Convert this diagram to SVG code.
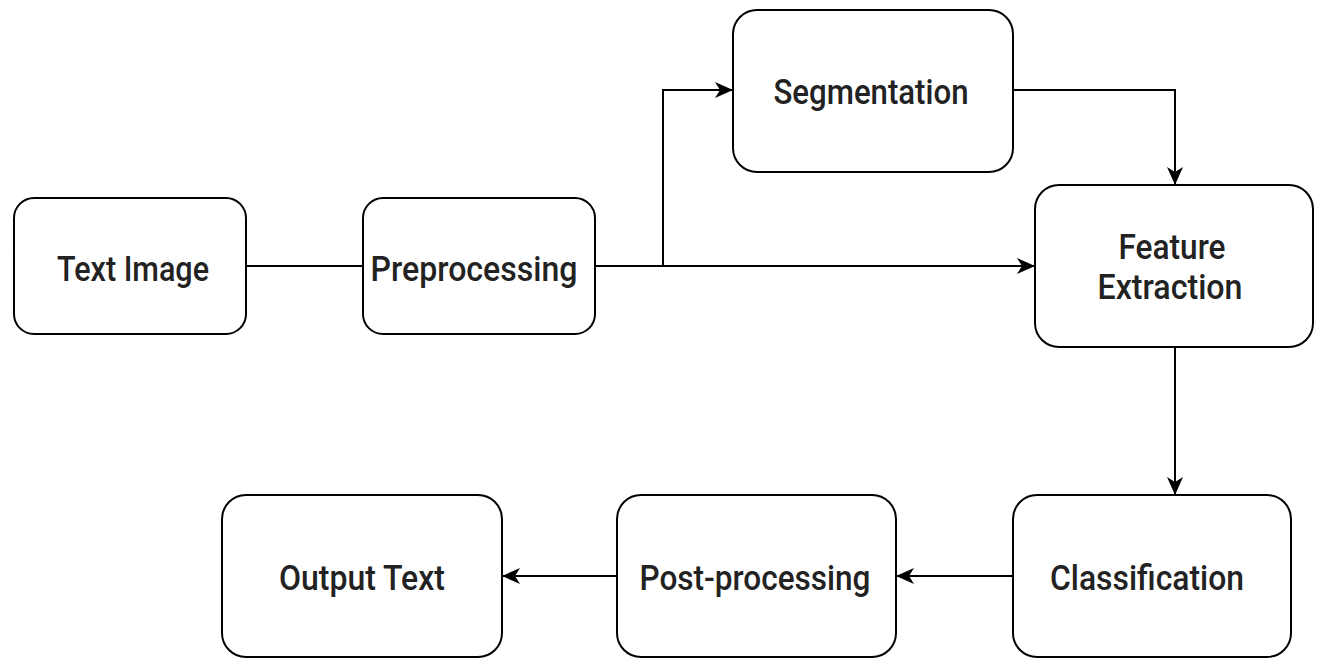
<svg xmlns="http://www.w3.org/2000/svg" width="1328" height="671" viewBox="0 0 1328 671">
<style>
.box{fill:#fff;stroke:#000;stroke-width:2}
.lbl{font-family:Roboto,"Liberation Sans",sans-serif;font-weight:500;font-size:35px;fill:#222;text-anchor:middle}
.edge{fill:none;stroke:#000;stroke-width:2}
</style>
<defs>
<marker id="arr" markerUnits="userSpaceOnUse" markerWidth="18" markerHeight="16" viewBox="0 0 18 16" refX="17" refY="8" orient="auto">
<path d="M0,0 L18,8 L0,16 L5,8 Z" fill="#000"/>
</marker>
</defs>
<rect width="1328" height="671" fill="#fff"/>
<g id="connectors">
<path class="edge" d="M246,266 H363"/>
<path class="edge" d="M595,266 H1034" marker-end="url(#arr)"/>
<path class="edge" d="M663,266 V90 H732" marker-end="url(#arr)"/>
<path class="edge" d="M1013,90 H1175 V184" marker-end="url(#arr)"/>
<path class="edge" d="M1175,347 V494" marker-end="url(#arr)"/>
<path class="edge" d="M1013,576 H897" marker-end="url(#arr)"/>
<path class="edge" d="M617,576 H503" marker-end="url(#arr)"/>
</g>
<g id="text-image">
<rect class="box" x="14" y="198" width="232" height="136" rx="20"/>
<text class="lbl" x="133" y="281" textLength="152" lengthAdjust="spacingAndGlyphs">Text Image</text>
</g>
<g id="preprocessing">
<rect class="box" x="363" y="198" width="232" height="136" rx="20"/>
<text class="lbl" x="474" y="281" textLength="207" lengthAdjust="spacingAndGlyphs">Preprocessing</text>
</g>
<g id="segmentation">
<rect class="box" x="733" y="10" width="280" height="162" rx="24"/>
<text class="lbl" x="871" y="104" textLength="195" lengthAdjust="spacingAndGlyphs">Segmentation</text>
</g>
<g id="feature-extraction">
<rect class="box" x="1035" y="185" width="278" height="162" rx="24"/>
<text class="lbl" x="1172" y="259" textLength="107" lengthAdjust="spacingAndGlyphs">Feature</text>
<text class="lbl" x="1170" y="299" textLength="145" lengthAdjust="spacingAndGlyphs">Extraction</text>
</g>
<g id="classification">
<rect class="box" x="1013" y="495" width="278" height="162" rx="24"/>
<text class="lbl" x="1147" y="590" textLength="194" lengthAdjust="spacingAndGlyphs">Classification</text>
</g>
<g id="post-processing">
<rect class="box" x="617" y="495" width="279" height="162" rx="24"/>
<text class="lbl" x="755" y="590" textLength="231" lengthAdjust="spacingAndGlyphs">Post-processing</text>
</g>
<g id="output-text">
<rect class="box" x="222" y="495" width="280" height="162" rx="24"/>
<text class="lbl" x="362" y="590" textLength="166" lengthAdjust="spacingAndGlyphs">Output Text</text>
</g>
</svg>
